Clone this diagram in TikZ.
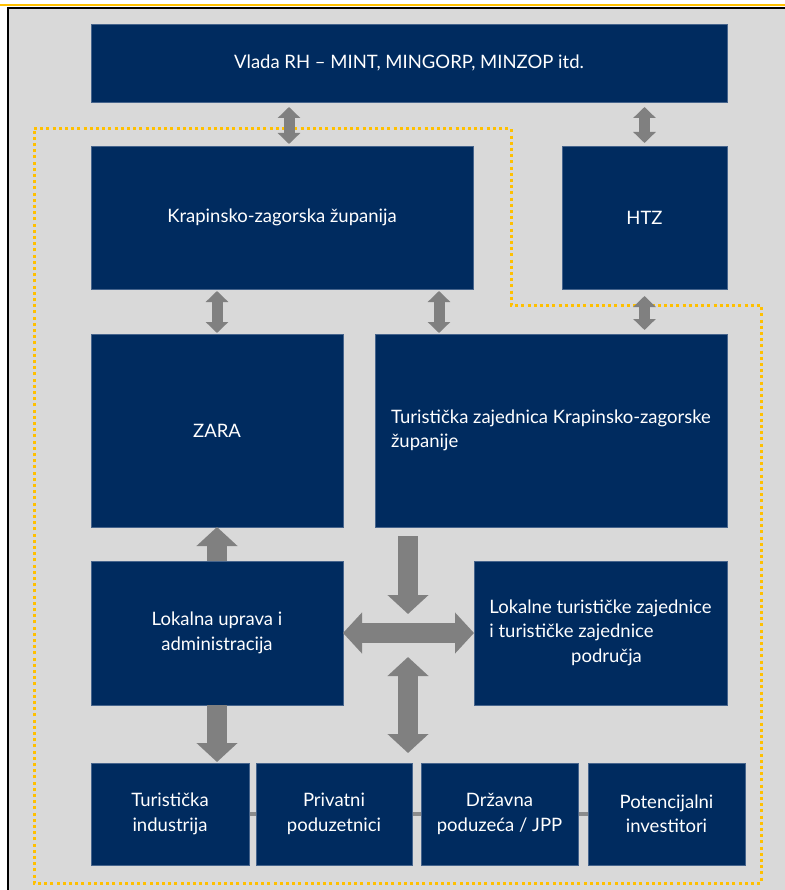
\documentclass[tikz,border=0pt]{standalone}
\usepackage{fontspec}
\setmainfont{Lato}
\usetikzlibrary{arrows.meta,backgrounds}
\definecolor{navy}{RGB}{0,43,95}
\definecolor{navyedge}{RGB}{70,100,140}
\definecolor{arrgray}{RGB}{128,128,128}
\definecolor{bargray}{RGB}{140,140,140}
\definecolor{panel}{RGB}{217,217,217}
\definecolor{gold}{RGB}{255,192,0}
\tikzset{
  box/.style={draw=navyedge, line width=0.6pt, fill=navy, text=white, anchor=north west,
    inner sep=0pt, outer sep=0pt, align=center, font=\fontsize{18.5}{24.5}\selectfont},
  sarr/.style={draw=arrgray, line width=11pt,
    {Triangle[width=22pt,length=11pt]}-{Triangle[width=22pt,length=11pt]}},
  barr/.style={draw=arrgray, line width=20pt, -{Triangle[width=40pt,length=19pt]}},
  bdarr/.style={draw=arrgray, line width=20pt,
    {Triangle[width=40pt,length=19pt]}-{Triangle[width=40pt,length=19pt]}},
  outline/.style={draw=gold, line width=3pt, dash pattern=on 3pt off 3.2pt},
  bar/.style={draw=bargray, line width=4pt}
}
\begin{document}
\begin{tikzpicture}[x=1pt,y=-1pt]
\useasboundingbox (0,0) rectangle (784,890);
\begin{scope}[on background layer]
  \fill[panel] (8,8) rectangle (800,900);
  \draw[black, line width=1.2pt] (8,900) -- (8,8) -- (800,8);
  \draw[gold, line width=1.6pt] (-5,5) -- (800,5);
\end{scope}

\node[box, minimum width=636pt, minimum height=78pt] (vlada) at (91,24) {Vlada RH – MINT, MINGORP, MINZOP itd.};
\node[box, minimum width=382pt, minimum height=143pt] (kz) at (91,146) {Krapinsko-zagorska županija};
\node[box, minimum width=165pt, minimum height=143pt] (htz) at (562,146) {HTZ};
\node[box, minimum width=252pt, minimum height=193pt] (zara) at (91,334) {ZARA};
\node[box, minimum width=352pt, minimum height=193pt, align=left] (tzkz) at (375,334) {Turistička zajednica Krapinsko-zagorske\\županije};
\node[box, minimum width=252pt, minimum height=144pt] (lu) at (91,561) {Lokalna uprava i\\administracija};
\node[box, minimum width=253pt, minimum height=144pt] (ltz) at (474,561)
  {\begin{tabular}{@{}l@{}}Lokalne turističke zajednice\\i turističke zajednice\\\multicolumn{1}{@{}c@{}}{\hspace{12pt}područja}\end{tabular}};
\node[box, minimum width=158pt, minimum height=102pt] (b1) at (91,763) {Turistička\\industrija};
\node[box, minimum width=156pt, minimum height=102pt] (b2) at (256,763) {Privatni\\poduzetnici};
\node[box, minimum width=157pt, minimum height=102pt] (b3) at (421,763) {Državna\\poduzeća / JPP};
\node[box, minimum width=157pt, minimum height=102pt] (b4) at (588,763) {Potencijalni\\investitori};

\begin{scope}[on background layer]
  \draw[bar] (b1.center) -- (b4.center);
\end{scope}

\draw[outline] (34,129) -- (511,129) -- (511,305) -- (761,305) -- (761,883) -- (34,883) -- cycle;

\coordinate (hub) at ([xshift=33pt]tzkz.south west |- lu.east);

\draw[sarr, shorten <=5pt, shorten >=2pt] ([xshift=7pt]kz.north |- vlada.south) -- ([xshift=7pt]kz.north);
\draw[sarr, shorten <=5pt, shorten >=3pt] (htz.north |- vlada.south) -- (htz.north);
\draw[sarr, shorten <=2pt, shorten >=1pt] (zara.north |- kz.south) -- (zara.north);
\draw[sarr, shorten <=2pt, shorten >=1pt] ([xshift=-34pt]kz.south east) -- ([xshift=-34pt]kz.south east |- tzkz.north);
\draw[sarr, shorten <=7pt, shorten >=4pt] (htz.south) -- (htz.south |- tzkz.north);

\draw[barr] (lu.north) -- (zara.south);
\draw[barr, shorten >=1pt] (lu.south) -- (lu.south |- b1.north);
\draw[barr, shorten <=9pt, shorten >=19pt] ([xshift=33pt]tzkz.south west) -- (hub);
\draw[bdarr] (lu.east) -- (ltz.west);
\draw[bdarr, shorten <=24pt, shorten >=10pt] (hub) -- (hub |- b2.north);
\end{tikzpicture}
\end{document}
